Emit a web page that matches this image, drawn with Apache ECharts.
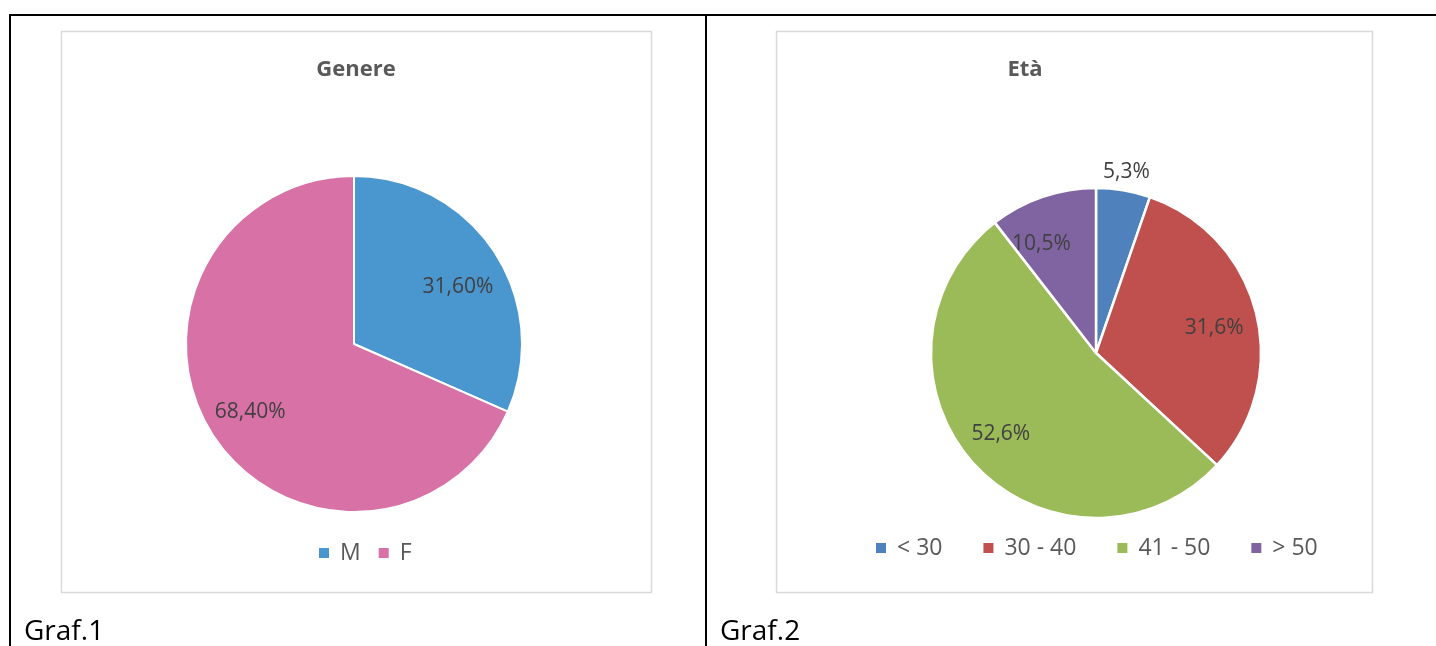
<!DOCTYPE html>
<html>
<head>
<meta charset="utf-8">
<script src="https://cdn.jsdelivr.net/npm/echarts@6/dist/echarts.min.js"></script>
<style>
html,body{margin:0;padding:0;background:#fff;}
#c{width:1436px;height:646px;}
</style>
</head>
<body>
<div id="c"></div>
<script>
// ---- data ----
var genereTitle = 'Genere';
var genereCategories = ['M', 'F'];
var genereValues = [31.6, 68.4];
var genereColors = ['#4a96ce', '#d871a5'];

var etaTitle = 'Età';
var etaCategories = ['< 30', '30 - 40', '41 - 50', '> 50'];
var etaValues = [5.3, 31.6, 52.6, 10.5];
var etaColors = ['#4f81bd', '#c0504d', '#9bbb59', '#8064a2'];

var captions = ['Graf.1', 'Graf.2'];

// ---- chart ----
var FONT = '"Open Sans", "Noto Sans", sans-serif';
var chart = echarts.init(document.getElementById('c'));

function mk(cats, vals, colors) {
  return cats.map(function (n, i) { return { name: n, value: vals[i], itemStyle: { color: colors[i] } }; });
}
function fmt(dec) {
  return function (p) { return p.value.toFixed(dec).replace('.', ',') + '%'; };
}
var labelStyle = { color: '#404040', fontSize: 21, fontFamily: FONT };

var g1 = mk(genereCategories, genereValues, genereColors);
var e1 = mk(etaCategories, etaValues, etaColors);

// label nudges (Excel-style placement)
var genereLabelOffsets = [[0, 11], [0, 0]];
var etaLabelOffsets = [[0, 0], [-3, 5], [-3, -3], [-14, 9]];

function transparentData(cats, vals, showIdx, offsets) {
  return cats.map(function (n, i) {
    var d = { name: n, value: vals[i], itemStyle: { color: 'rgba(0,0,0,0)', borderWidth: 0 } };
    if (showIdx && showIdx.indexOf(i) < 0) d.label = { show: false };
    else if (offsets) d.label = { offset: offsets[i] };
    return d;
  });
}

var legendText = { color: '#595959', fontSize: 23, fontFamily: FONT, lineHeight: 24, padding: [0, 0, 0, 5] };

var option = {
  animation: false,
  graphic: [
    // table lines
    { type: 'line', shape: { x1: 9, y1: 15, x2: 1436, y2: 15 }, style: { stroke: '#000', lineWidth: 2 } },
    { type: 'line', shape: { x1: 10, y1: 15, x2: 10, y2: 646 }, style: { stroke: '#000', lineWidth: 2 } },
    { type: 'line', shape: { x1: 706, y1: 15, x2: 706, y2: 646 }, style: { stroke: '#000', lineWidth: 2 } },
    // chart boxes
    { type: 'rect', shape: { x: 61.5, y: 31.5, width: 590, height: 561 }, style: { fill: '#fff', stroke: '#d9d9d9', lineWidth: 1.5 }, z: -1 },
    { type: 'rect', shape: { x: 776.5, y: 31.5, width: 596, height: 561 }, style: { fill: '#fff', stroke: '#d9d9d9', lineWidth: 1.5 }, z: -1 },
    // titles
    { type: 'text', x: 356, y: 70, style: { text: genereTitle, font: 'bold 22px ' + FONT, fill: '#595959', align: 'center', verticalAlign: 'middle' } },
    { type: 'text', x: 1025, y: 70, style: { text: etaTitle, font: 'bold 22px ' + FONT, fill: '#595959', align: 'center', verticalAlign: 'middle' } },
    // captions
    { type: 'text', x: 24, y: 632, style: { text: captions[0], font: '28px ' + FONT, fill: '#000', align: 'left', verticalAlign: 'middle' } },
    { type: 'text', x: 720, y: 632, style: { text: captions[1], font: '28px ' + FONT, fill: '#000', align: 'left', verticalAlign: 'middle' } }
  ],
  legend: [
    {
      left: 317, top: 541, padding: 0, orient: 'horizontal', icon: 'rect', itemWidth: 12, itemHeight: 12, itemGap: 16,
      selectedMode: false, textStyle: legendText,
      data: genereCategories.map(function (n, i) { return { name: n, itemStyle: { color: genereColors[i] } }; })
    },
    {
      left: 874, top: 536, padding: 0, orient: 'horizontal', icon: 'rect', itemWidth: 12, itemHeight: 12, itemGap: 39,
      selectedMode: false, textStyle: legendText,
      data: etaCategories.map(function (n, i) { return { name: n, itemStyle: { color: etaColors[i] } }; })
    }
  ],
  series: [
    {
      type: 'pie', center: [354, 344], radius: [0, 168], startAngle: 90, clockwise: true,
      itemStyle: { borderColor: '#fff', borderWidth: 2 },
      label: { show: false }, labelLine: { show: false }, emphasis: { disabled: true },
      data: g1
    },
    {
      type: 'pie', center: [354, 344], radius: [74, 168], startAngle: 90, clockwise: true, silent: true,
      label: Object.assign({ show: true, position: 'inside', formatter: fmt(2) }, labelStyle),
      labelLine: { show: false }, emphasis: { disabled: true },
      data: transparentData(genereCategories, genereValues, null, genereLabelOffsets)
    },
    {
      type: 'pie', center: [1096, 353], radius: [0, 165], startAngle: 90, clockwise: true,
      itemStyle: { borderColor: '#fff', borderWidth: 2.5 },
      label: { show: false }, labelLine: { show: false }, emphasis: { disabled: true },
      data: e1
    },
    {
      type: 'pie', center: [1096, 353], radius: [79, 165], startAngle: 90, clockwise: true, silent: true,
      label: Object.assign({ show: true, position: 'inside', formatter: fmt(1) }, labelStyle),
      labelLine: { show: false }, emphasis: { disabled: true },
      data: transparentData(etaCategories, etaValues, [1, 2, 3], etaLabelOffsets)
    },
    {
      type: 'pie', center: [1096, 353], radius: [165, 197], startAngle: 90, clockwise: true, silent: true,
      label: Object.assign({ show: true, position: 'inside', formatter: fmt(1) }, labelStyle),
      labelLine: { show: false }, emphasis: { disabled: true },
      data: transparentData(etaCategories, etaValues, [0])
    }
  ]
};
chart.setOption(option);
</script>
</body>
</html>
